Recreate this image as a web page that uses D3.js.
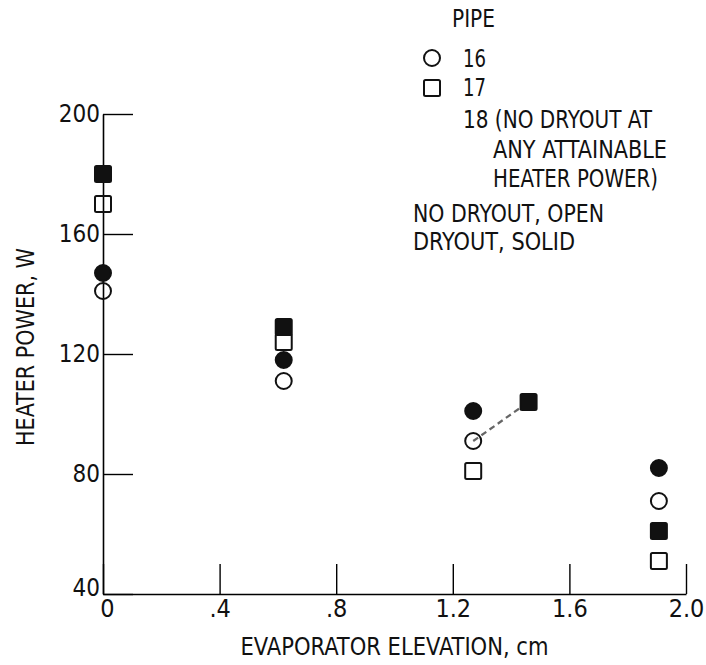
<!DOCTYPE html>
<html>
<head>
<meta charset="utf-8">
<script src="https://cdn.jsdelivr.net/npm/d3@7"></script>
<style>
  html, body { margin: 0; padding: 0; background: #fff; }
  svg text { font-family: "Liberation Sans Narrow", "DejaVu Sans Condensed", sans-serif; fill: #111; }
</style>
</head>
<body>
<div id="chart"></div>
<script>
// evaporator elevation (cm) and heater power (W)
const pipe16OpenX = [0, 0.62, 1.27, 1.907];
const pipe16OpenY = [141, 111, 91, 71];
const pipe16SolidX = [0, 0.62, 1.27, 1.907];
const pipe16SolidY = [147, 118, 101, 82];
const pipe17OpenX = [0, 0.62, 1.27, 1.907];
const pipe17OpenY = [170, 124, 81, 51];
const pipe17SolidX = [0, 0.62, 1.46, 1.907];
const pipe17SolidY = [180, 129, 104, 61];
// dashed connector between the two points near 1.3 cm
const linkX = [1.27, 1.46];
const linkY = [91, 104];

const xTicks = [0, 0.4, 0.8, 1.2, 1.6, 2.0];
const xTickLabels = ["0", ".4", ".8", "1.2", "1.6", "2.0"];
const yTicks = [40, 80, 120, 160, 200];

const legendTitle = "PIPE";
const legendPipes = ["16", "17"];
const legendNote = ["18 (NO DRYOUT AT", "ANY ATTAINABLE", "HEATER POWER)"];
const legendFill = ["NO DRYOUT, OPEN", "DRYOUT, SOLID"];

const width = 706, height = 665;
const margin = { top: 114, right: 20, bottom: 71, left: 103 };

const svg = d3.select("#chart")
  .append("svg")
  .attr("width", width)
  .attr("height", height);

const x = d3.scaleLinear().domain([0, 2]).range([margin.left, 686]);
const y = d3.scaleLinear().domain([40, 200]).range([height - margin.bottom, margin.top]);

// helper: text squeezed to the width it has in the scan
function label(g, px, py, str, w, size) {
  const t = g.append("text").attr("x", px).attr("y", py).attr("font-size", size || 24).text(str);
  if (w) t.attr("textLength", w).attr("lengthAdjust", "spacingAndGlyphs");
  return t;
}

// y axis, ticks point inward
svg.append("g")
  .attr("class", "yAxis")
  .attr("transform", "translate(" + x(0) + ",0)")
  .call(d3.axisLeft(y).tickValues(yTicks).tickSizeInner(-30).tickSizeOuter(0).tickPadding(3))
  .call(g => g.select(".domain").attr("stroke-width", 1.6))
  .call(g => g.selectAll(".tick line").attr("stroke-width", 1.4))
  .call(g => g.selectAll(".tick text")
    .attr("font-size", 24).attr("font-family", null).attr("fill", "#111")
    .attr("dy", d => d === 40 ? "0.05em" : "0.32em"));

// x axis
svg.append("g")
  .attr("class", "xAxis")
  .attr("transform", "translate(0," + y(40) + ")")
  .call(d3.axisBottom(x).tickValues(xTicks).tickSizeInner(-30).tickSizeOuter(0).tickPadding(5)
    .tickFormat((d, i) => xTickLabels[i]))
  .call(g => g.select(".domain").attr("stroke-width", 1.6))
  .call(g => g.selectAll(".tick line").attr("stroke-width", 1.4))
  .call(g => g.selectAll(".tick text")
    .attr("font-size", 25).attr("font-family", null).attr("fill", "#111")
    .attr("dx", d => d === 0 ? 4 : 0));

// axis titles
label(svg, (x(0) + x(2)) / 2, 655, "EVAPORATOR ELEVATION, cm", 308, 25)
  .attr("text-anchor", "middle");

label(svg, 0, 0, "HEATER POWER, W", 198, 25)
  .attr("transform", "translate(34,347) rotate(-90)")
  .attr("text-anchor", "middle");

// dashed connector
svg.append("path")
  .datum(linkX.map((d, i) => [d, linkY[i]]))
  .attr("d", d3.line().x(d => x(d[0])).y(d => y(d[1])))
  .attr("fill", "none")
  .attr("stroke", "#666")
  .attr("stroke-width", 2.2)
  .attr("stroke-dasharray", "6,4");

const circleR = 8, squareSize = 16;

function drawCircles(xs, ys, solid) {
  svg.append("g")
    .selectAll("circle")
    .data(xs.map((d, i) => [d, ys[i]]))
    .join("circle")
    .attr("cx", d => x(d[0]))
    .attr("cy", d => y(d[1]))
    .attr("r", circleR)
    .attr("fill", solid ? "#111" : "none")
    .attr("stroke", "#111")
    .attr("stroke-width", 2);
}

function drawSquares(xs, ys, solid) {
  svg.append("g")
    .selectAll("rect")
    .data(xs.map((d, i) => [d, ys[i]]))
    .join("rect")
    .attr("x", d => x(d[0]) - squareSize / 2)
    .attr("y", d => y(d[1]) - squareSize / 2)
    .attr("width", squareSize)
    .attr("height", squareSize)
    .attr("rx", 1.5)
    .attr("fill", solid ? "#111" : "none")
    .attr("stroke", "#111")
    .attr("stroke-width", 2);
}

drawCircles(pipe16SolidX, pipe16SolidY, true);
drawCircles(pipe16OpenX, pipe16OpenY, false);
drawSquares(pipe17OpenX, pipe17OpenY, false);
drawSquares(pipe17SolidX, pipe17SolidY, true);

// legend
const legend = svg.append("g").attr("class", "legend");
label(legend, 452, 27, legendTitle, 43);

legend.append("circle")
  .attr("cx", 432).attr("cy", 58).attr("r", 8)
  .attr("fill", "none").attr("stroke", "#111").attr("stroke-width", 2);
legend.append("rect")
  .attr("x", 424).attr("y", 80).attr("width", 16).attr("height", 16)
  .attr("rx", 1.5)
  .attr("fill", "none").attr("stroke", "#111").attr("stroke-width", 2);

legendPipes.forEach((p, i) => label(legend, 463, 67 + i * 29, p, 23));

label(legend, 463, 128, legendNote[0], 189);
label(legend, 493, 158, legendNote[1], 174);
label(legend, 493, 187, legendNote[2], 165);

label(legend, 413, 222, legendFill[0], 191);
label(legend, 413, 250, legendFill[1], 162);
</script>
</body>
</html>
